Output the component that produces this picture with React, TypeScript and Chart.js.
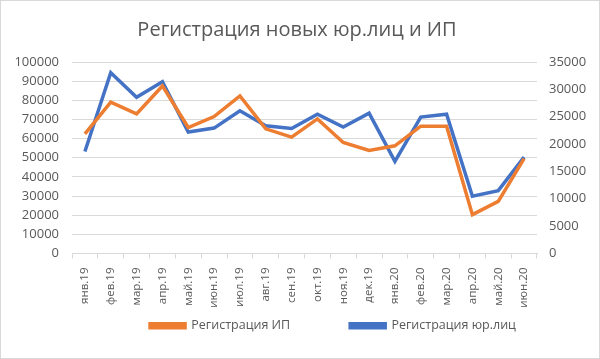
import React, { useEffect, useRef } from "react";
import { Chart, registerables } from "chart.js";

Chart.register(...registerables);

const categories = ["янв.19","фев.19","мар.19","апр.19","май.19","июн.19","июл.19","авг.19","сен.19","окт.19","ноя.19","дек.19","янв.20","фев.20","мар.20","апр.20","май.20","июн.20"];
const ipValues = [62500, 79000, 72900, 87500, 65800, 71500, 82300, 65100, 60800, 70300, 58000, 53800, 56250, 66500, 66500, 20300, 27200, 49500];
const ulValues = [18650, 33050, 28560, 31400, 22190, 22920, 26070, 23330, 22850, 25450, 23100, 25640, 16830, 24930, 25450, 10450, 11480, 17620];
const leftTicks = { min: 0, max: 100000, step: 10000 };
const rightTicks = { min: 0, max: 35000, step: 5000 };

const FONT = "'Open Sans', 'Liberation Sans', sans-serif";
const GRAY = "#595959";

const legendShift = {
  id: "legendShift",
  afterLayout(chart: any) {
    if (chart.legend) {
      chart.legend.left += 36;
      chart.legend.right += 36;
    }
  },
};

export default function App() {
  const ref = useRef<HTMLCanvasElement>(null);
  useEffect(() => {
    document.body.style.margin = "0";
    const ctx = ref.current!;
    const chart = new Chart(ctx, {
      type: "line",
      plugins: [legendShift],
      data: {
        labels: categories,
        datasets: [
          {
            label: "Регистрация ИП",
            data: ipValues,
            borderColor: "#ED7D31",
            backgroundColor: "#ED7D31",
            borderWidth: 3.5,
            pointRadius: 0,
            tension: 0,
            yAxisID: "y",
          },
          {
            label: "Регистрация юр.лиц",
            data: ulValues,
            borderColor: "#4472C4",
            backgroundColor: "#4472C4",
            borderWidth: 3.5,
            pointRadius: 0,
            tension: 0,
            yAxisID: "y1",
          },
        ],
      },
      options: {
        responsive: false,
        animation: false,
        layout: { padding: { left: 4, right: 10, top: 4, bottom: 16 } },
        plugins: {
          title: {
            display: true,
            text: "Регистрация новых юр.лиц и ИП",
            color: GRAY,
            font: { family: FONT, size: 20, weight: "normal" },
            padding: { top: 13, bottom: 20 },
          },
          legend: {
            position: "bottom",
            labels: {
              color: GRAY,
              font: { family: FONT, size: 12.5 },
              boxWidth: 35,
              boxHeight: 4,
              padding: 10,
              generateLabels: (c: any) => {
                const items = Chart.defaults.plugins.legend.labels.generateLabels(c);
                items.forEach((it: any, i: number) => {
                  if (i < items.length - 1) it.text = it.text + "\u2002\u2002\u2002\u2002\u2002\u2002\u2002\u2002";
                });
                return items;
              },
            },
          },
          tooltip: { enabled: false },
        },
        scales: {
          x: {
            offset: true,
            grid: { drawOnChartArea: false, drawTicks: true, tickLength: 5, color: "#d9d9d9", offset: true },
            border: { color: "#d9d9d9" },
            ticks: { color: GRAY, font: { family: FONT, size: 11.5 }, maxRotation: 90, minRotation: 90, padding: 9, autoSkip: false },
            afterFit: (s: any) => { s.height = 56; },
          },
          y: {
            position: "left",
            min: leftTicks.min,
            max: leftTicks.max,
            ticks: { stepSize: leftTicks.step, autoSkip: false, color: GRAY, font: { family: FONT, size: 13 }, padding: 13, callback: (v: any) => String(v) },
            grid: { color: "#d9d9d9", drawTicks: false },
            border: { display: false },
            afterFit: (s: any) => { s.width = 67; },
          },
          y1: {
            position: "right",
            min: rightTicks.min,
            max: rightTicks.max,
            ticks: { stepSize: rightTicks.step, autoSkip: false, color: GRAY, font: { family: FONT, size: 13 }, padding: 12, callback: (v: any) => String(v) },
            grid: { drawOnChartArea: false, drawTicks: false },
            border: { display: false },
            afterFit: (s: any) => { s.width = 52; },
          },
        },
      },
    });
    return () => chart.destroy();
  }, []);
  return (
    <div style={{ width: 600, height: 359, boxSizing: "border-box", border: "1px solid #d9d9d9", background: "#fff" }}>
      <canvas ref={ref} width={598} height={357} />
    </div>
  );
}
